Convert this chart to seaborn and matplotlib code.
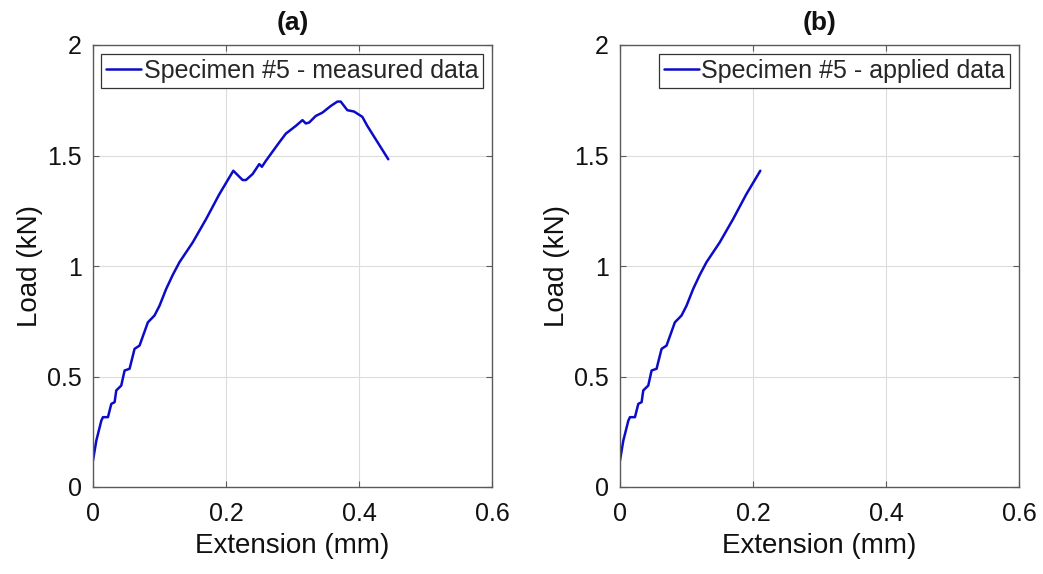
import matplotlib
matplotlib.use("Agg")
import matplotlib.pyplot as plt
import seaborn as sns
import pandas as pd

# Extension (mm) and Load (kN), specimen #5
extension = [0.0, 0.005, 0.0125, 0.015, 0.0225, 0.0275, 0.0325, 0.035, 0.0425,
             0.0475, 0.055, 0.0625, 0.07, 0.0825, 0.0925, 0.1, 0.11, 0.12, 0.13,
             0.15, 0.17, 0.19, 0.211, 0.225, 0.23, 0.24, 0.25, 0.254, 0.26, 0.28,
             0.29, 0.305, 0.315, 0.32, 0.325, 0.335, 0.345, 0.3575, 0.3675,
             0.3725, 0.3825, 0.3925, 0.405, 0.4125, 0.444]
load = [0.12, 0.21, 0.30, 0.316, 0.316, 0.376, 0.384, 0.437, 0.459,
        0.527, 0.535, 0.625, 0.64, 0.745, 0.776, 0.82, 0.896, 0.96, 1.017,
        1.107, 1.212, 1.325, 1.431, 1.389, 1.389, 1.416, 1.461, 1.449, 1.476,
        1.559, 1.599, 1.634, 1.66, 1.645, 1.649, 1.679, 1.694, 1.724, 1.744,
        1.744, 1.705, 1.699, 1.675, 1.634, 1.483]
applied_end_index = 23  # applied data stops at first load peak (x ~ 0.211)

panel_titles = ["(a)", "(b)"]
legend_labels = ["Specimen #5 - measured data", "Specimen #5 - applied data"]
x_ticks = [0, 0.2, 0.4, 0.6]
x_tick_labels = ["0", "0.2", "0.4", "0.6"]
y_ticks = [0, 0.5, 1, 1.5, 2]
y_tick_labels = ["0", "0.5", "1", "1.5", "2"]

sns.set_theme(style="whitegrid")
plt.rcParams["font.family"] = ["Liberation Sans", "DejaVu Sans"]

fig = plt.figure(figsize=(10.43, 5.74), dpi=100)
ax_a = fig.add_axes([93 / 1043, 1 - 487 / 574, (492 - 93) / 1043, (487 - 45) / 574])
ax_b = fig.add_axes([620 / 1043, 1 - 487 / 574, (1019 - 620) / 1043, (487 - 45) / 574])

df_meas = pd.DataFrame({"Extension": extension, "Load": load})
df_appl = df_meas.iloc[:applied_end_index].copy()

line_color = "#0c0cc8"
spine_color = "#5a5a5a"

for ax, df, title, lab in zip([ax_a, ax_b], [df_meas, df_appl], panel_titles, legend_labels):
    sns.lineplot(data=df, x="Extension", y="Load", ax=ax, color=line_color,
                 linewidth=1.8, sort=False, estimator=None, label=lab)
    ax.set_xlim(0, 0.6)
    ax.set_ylim(0, 2)
    ax.set_xticks(x_ticks)
    ax.set_xticklabels(x_tick_labels)
    ax.set_yticks(y_ticks)
    ax.set_yticklabels(y_tick_labels)
    ax.set_facecolor("white")
    ax.grid(True, color="#dcdcdc", linewidth=0.8)
    for s in ax.spines.values():
        s.set_visible(True)
        s.set_color(spine_color)
        s.set_linewidth(1.0)
    ax.tick_params(axis="both", direction="in", length=4, width=0.8, colors=spine_color,
                   labelcolor="#111111", labelsize=18, top=True, right=True,
                   bottom=True, left=True)
    ax.tick_params(axis="x", pad=11)
    ax.tick_params(axis="y", pad=8)
    ax.set_xlabel("Extension (mm)", fontsize=20, color="#111111", labelpad=5)
    ax.set_ylabel("Load (kN)", fontsize=20, color="#111111", labelpad=3)
    ax.set_title(title, fontsize=19, fontweight="bold", color="#111111", pad=11)
    leg = ax.legend(loc="upper right", fontsize=18, frameon=True, fancybox=False,
                    borderpad=0.2, handlelength=1.4, handletextpad=0.1,
                    borderaxespad=0.35)
    leg.get_frame().set_edgecolor("#333333")
    leg.get_frame().set_linewidth(0.9)
    leg.get_frame().set_alpha(1.0)

fig.savefig("out.png", dpi=100, facecolor="white")
